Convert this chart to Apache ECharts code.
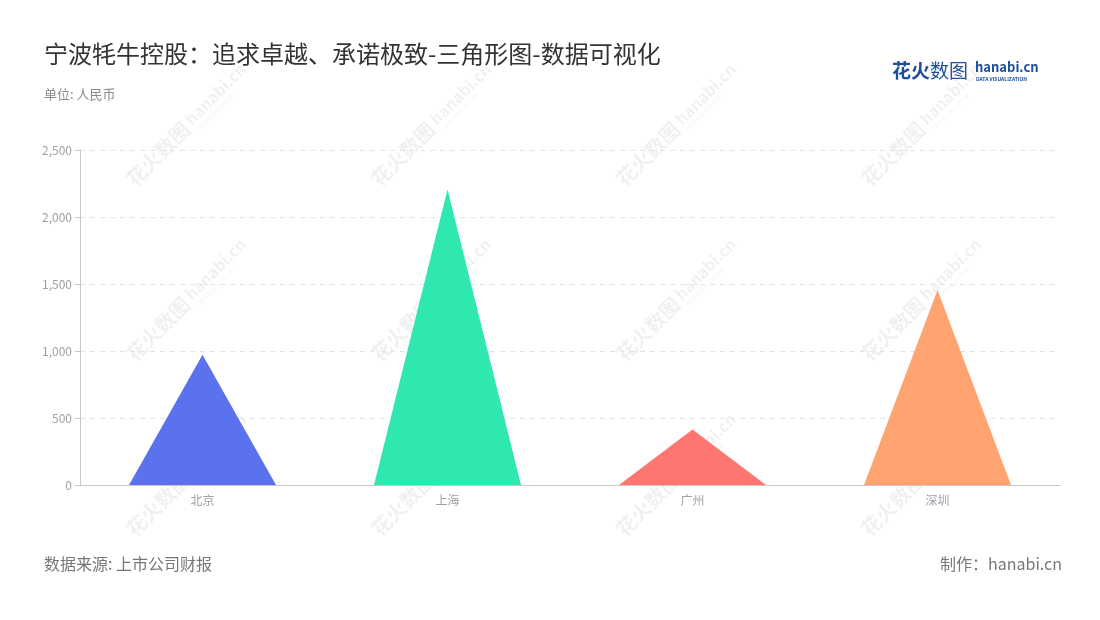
<!DOCTYPE html>
<html>
<head>
<meta charset="utf-8">
<script src="https://cdn.jsdelivr.net/npm/echarts@6/dist/echarts.min.js"></script>
<style>
html,body{margin:0;padding:0;background:#fff;}
#main{width:1100px;height:620px;}
</style>
</head>
<body>
<div id="main"></div>
<script>
var categories = ['北京', '上海', '广州', '深圳'];
var values = [972, 2205, 415, 1455];
var colors = ['#5A72EE', '#2EE8B0', '#FF756F', '#FFA370'];
var yTicks = [0, 500, 1000, 1500, 2000, 2500];

var FONT = '"Noto Sans CJK SC", "Noto Sans", sans-serif';
var chart = echarts.init(document.getElementById('main'));

var wmCols = [175, 420, 665, 910];
var wmRows = [140, 315, 490];
var graphics = [];
wmRows.forEach(function (y) {
  wmCols.forEach(function (x) {
    graphics.push({
      type: 'group', x: x, y: y, rotation: Math.PI / 4, silent: true, z: 100,
      children: [
        { type: 'text', x: -62, y: -12, style: { text: '花火数图', font: 'bold 20px ' + FONT, fill: 'rgba(0,0,0,0.06)' } },
        { type: 'text', x: 22, y: -12, style: { text: 'hanabi.cn', font: 'bold 16px ' + FONT, fill: 'rgba(0,0,0,0.06)' } },
        { type: 'text', x: 24, y: 6, style: { text: 'DATA VISUALIZATION', font: '5px ' + FONT, fill: 'rgba(0,0,0,0.06)' } }
      ]
    });
  });
});
graphics.push(
  { type: 'text', left: 44, top: 42, style: { text: '宁波牦牛控股：追求卓越、承诺极致-三角形图-数据可视化', font: '24px ' + FONT, fill: '#333' } },
  { type: 'text', left: 44, top: 88, style: { text: '单位: 人民币', font: '13px ' + FONT, fill: '#8a8a8a' } },
  { type: 'text', left: 44, top: 556, style: { text: '数据来源: 上市公司财报', font: '16px ' + FONT, fill: '#777' } },
  { type: 'text', right: 38, top: 556, style: { text: '制作：hanabi.cn', font: '16px ' + FONT, fill: '#777' } },
  { type: 'text', left: 892, top: 61, style: { text: '花火', font: 'bold 19px ' + FONT, fill: '#1d4f9e' } },
  { type: 'text', left: 930, top: 61, style: { text: '数图', font: '19px ' + FONT, fill: '#1d4f9e' } },
  { type: 'text', left: 975, top: 61, style: { text: 'hanabi.cn', font: 'bold 13px ' + FONT, fill: '#1d4f9e' } },
  { type: 'text', left: 976, top: 77, style: { text: 'DATA VISUALIZATION', font: 'bold 5px ' + FONT, fill: '#1d4f9e' } }
);

chart.setOption({
  textStyle: { fontFamily: FONT },
  grid: { left: 80, right: 40, top: 150, bottom: 135 },
  xAxis: {
    type: 'category',
    data: categories,
    axisLine: { lineStyle: { color: '#c8c8c8' } },
    axisTick: { alignWithLabel: true, lineStyle: { color: '#999' } },
    axisLabel: { color: '#a0a0a8', fontSize: 12, margin: 9 }
  },
  yAxis: {
    type: 'value',
    min: yTicks[0],
    max: yTicks[yTicks.length - 1],
    interval: 500,
    axisLine: { show: true, lineStyle: { color: '#c8c8c8' } },
    axisTick: { show: true, lineStyle: { color: '#c8c8c8' } },
    axisLabel: { color: '#a0a0a0', fontSize: 12, margin: 8,
      formatter: function (v) { return v.toLocaleString('en-US'); } },
    splitLine: { lineStyle: { color: '#e3e3e3', type: [5, 5] } }
  },
  series: [{
    type: 'pictorialBar',
    symbol: 'triangle',
    barWidth: '60%',
    symbolSize: ['100%', '100%'],
    data: values.map(function (v, i) {
      return { value: v, itemStyle: { color: colors[i] } };
    })
  }],
  graphic: graphics
});
</script>
</body>
</html>
